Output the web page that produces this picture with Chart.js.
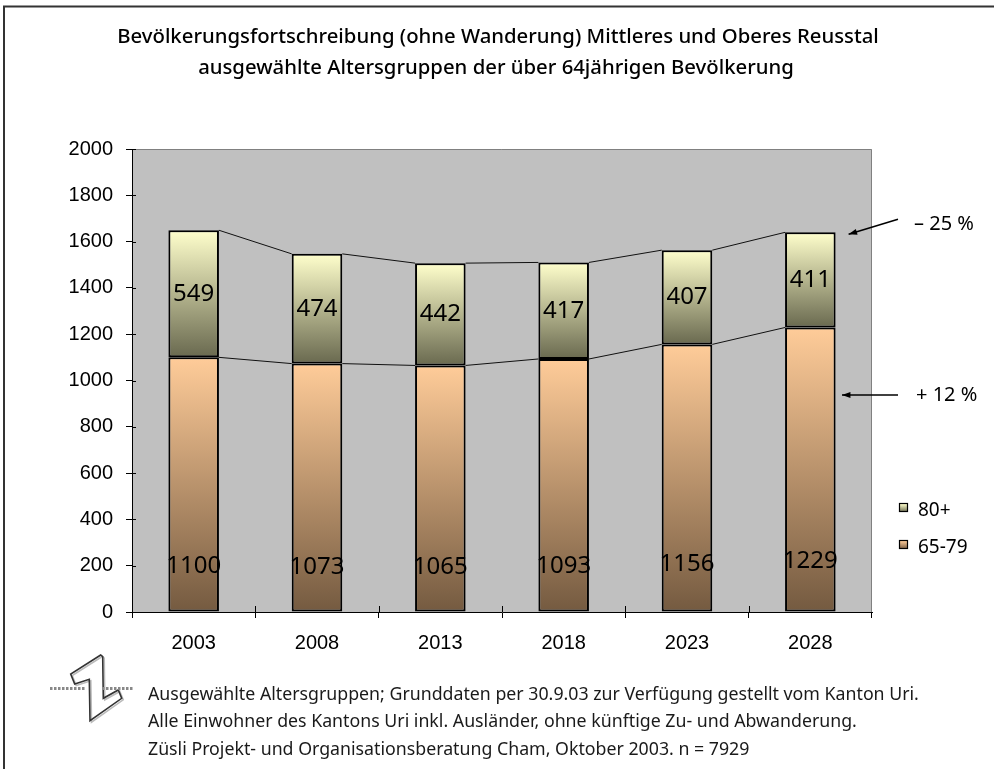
<!DOCTYPE html>
<html>
<head>
<meta charset="utf-8">
<title>Bevölkerungsfortschreibung Reusstal</title>
<script src="https://cdn.jsdelivr.net/npm/chart.js@4.4.1/dist/chart.umd.min.js"></script>
<style>
    html, body { margin: 0; padding: 0; background: #fff; }
    #wrap { position: relative; width: 994px; height: 769px; }
</style>
</head>
<body>
<div id="wrap"><canvas id="bar-chart" width="994" height="769"></canvas></div>
<script>
(function () {
    "use strict";

    // Data
    var years = ["2003", "2008", "2013", "2018", "2023", "2028"];
    var age6579 = [1100, 1073, 1065, 1093, 1156, 1229];
    var age80 = [549, 474, 442, 417, 407, 411];
    var seriesNames = ["65-79", "80+"];
    var changeNotes = ["\u2013 25 %", "+ 12 %"];
    var titleLines = [
        "Bevölkerungsfortschreibung (ohne Wanderung) Mittleres und Oberes Reusstal",
        "ausgewählte Altersgruppen der über 64jährigen Bevölkerung"
    ];
    var noteLines = [
        "Ausgewählte Altersgruppen; Grunddaten per 30.9.03 zur Verfügung gestellt vom Kanton Uri.",
        "Alle Einwohner des Kantons Uri inkl. Ausländer, ohne künftige Zu- und Abwanderung.",
        "Züsli Projekt- und Organisationsberatung Cham, Oktober 2003. n = 7929"
    ];

    // Colours (top -> bottom of each segment)
    var young = ["#ffcc99", "#745a40"];
    var old = ["#ffffcc", "#69694f"];
    var FUT = "'Noto Sans', 'DejaVu Sans', sans-serif";
    var ARIAL = "'Liberation Sans', Arial, sans-serif";

    function barGradient(context) {
        var chart = context.chart;
        var stops = context.datasetIndex === 0 ? young : old;
        if (!chart.chartArea || context.dataIndex === undefined) return stops[0];
        var i = context.dataIndex;
        var lo = context.datasetIndex === 0 ? 0 : age6579[i];
        var hi = context.datasetIndex === 0 ? age6579[i] : age6579[i] + age80[i];
        var y = chart.scales.y;
        var g = chart.ctx.createLinearGradient(0, y.getPixelForValue(hi), 0, y.getPixelForValue(lo));
        g.addColorStop(0, stops[0]);
        g.addColorStop(1, stops[1]);
        return g;
    }

    // font size so that one line hits a target width (original font is narrower)
    function fitSize(ctx, text, size, weight, family, target) {
        ctx.font = weight + " " + size + "px " + family;
        return size * target / ctx.measureText(text).width;
    }

    function arrow(ctx, x1, y1, x2, y2) {
        var a = Math.atan2(y2 - y1, x2 - x1);
        ctx.beginPath();
        ctx.moveTo(x1, y1);
        ctx.lineTo(x2, y2);
        ctx.stroke();
        ctx.beginPath();
        ctx.moveTo(x2, y2);
        ctx.lineTo(x2 - 9 * Math.cos(a - 0.35), y2 - 9 * Math.sin(a - 0.35));
        ctx.lineTo(x2 - 9 * Math.cos(a + 0.35), y2 - 9 * Math.sin(a + 0.35));
        ctx.closePath();
        ctx.fill();
    }

    // Background, frame and grey plot area
    var backdrop = {
        id: "backdrop",
        beforeDraw: function (chart) {
            var ctx = chart.ctx, a = chart.chartArea;
            ctx.save();
            ctx.fillStyle = "#fff";
            ctx.fillRect(0, 0, chart.width, chart.height);
            ctx.strokeStyle = "#333";
            ctx.lineWidth = 2;
            ctx.beginPath();
            ctx.moveTo(4, 800);
            ctx.lineTo(4, 6.5);
            ctx.lineTo(994, 6.5);
            ctx.stroke();
            ctx.fillStyle = "#c0c0c0";
            ctx.fillRect(a.left, a.top, a.right - a.left, a.bottom - a.top);
            ctx.strokeStyle = "#808080";
            ctx.lineWidth = 1;
            ctx.beginPath();
            ctx.moveTo(a.left, a.top + 0.5);
            ctx.lineTo(a.right - 0.5, a.top + 0.5);
            ctx.lineTo(a.right - 0.5, a.bottom);
            ctx.stroke();
            ctx.restore();
        }
    };

    // Series lines, value labels, legend, notes
    var decorations = {
        id: "decorations",
        afterDatasetsDraw: function (chart) {
            var ctx = chart.ctx, y = chart.scales.y, a = chart.chartArea;
            var m0 = chart.getDatasetMeta(0), m1 = chart.getDatasetMeta(1);
            ctx.save();

            // series lines between bar tops
            ctx.strokeStyle = "#111";
            ctx.lineWidth = 1;
            [m0, m1].forEach(function (meta) {
                for (var i = 0; i < meta.data.length - 1; i++) {
                    var b = meta.data[i], n = meta.data[i + 1];
                    ctx.beginPath();
                    ctx.moveTo(b.x + b.width / 2, b.y);
                    ctx.lineTo(n.x - n.width / 2, n.y);
                    ctx.stroke();
                }
            });

            // small inner ticks
            ctx.strokeStyle = "#000";
            y.ticks.forEach(function (t) {
                var py = Math.round(y.getPixelForValue(t.value)) + 0.5;
                ctx.beginPath();
                ctx.moveTo(a.left, py);
                ctx.lineTo(a.left + 4, py);
                ctx.stroke();
            });
            for (var k = 1; k < years.length; k++) {
                var px = Math.round((m0.data[k - 1].x + m0.data[k].x) / 2) + 0.5;
                ctx.beginPath();
                ctx.moveTo(px, a.bottom);
                ctx.lineTo(px, a.bottom - 6);
                ctx.stroke();
            }

            // value labels
            ctx.fillStyle = "#000";
            ctx.font = "24px " + FUT;
            ctx.textAlign = "center";
            ctx.textBaseline = "middle";
            m1.data.forEach(function (bar, i) {
                ctx.fillText(String(age80[i]), bar.x, (bar.y + bar.base) / 2);
            });
            m0.data.forEach(function (bar, i) {
                ctx.fillText(String(age6579[i]), bar.x, y.getPixelForValue(age6579[i] * 0.18));
            });
            ctx.restore();
        },
        afterDraw: function (chart) {
            var ctx = chart.ctx, y = chart.scales.y;
            var m1 = chart.getDatasetMeta(1);
            var last = m1.data[m1.data.length - 1];
            ctx.save();
            ctx.fillStyle = "#000";
            ctx.textBaseline = "middle";

            // title, one size for both lines
            var ts = fitSize(ctx, titleLines[0], 19, "500", FUT, 762);
            ctx.font = "500 " + ts.toFixed(2) + "px " + FUT;
            ctx.textAlign = "center";
            ctx.fillText(titleLines[0], 498, 37);
            ctx.fillText(titleLines[1], 496, 68);

            // change arrows
            ctx.strokeStyle = "#000";
            ctx.lineWidth = 1.5;
            var ty = y.getPixelForValue(age6579[5] + age80[5]) + 2;
            arrow(ctx, 898, ty - 15, last.x + last.width / 2 + 13, ty);
            arrow(ctx, 898, 395, 842, 395);
            ctx.font = "20px " + FUT;
            ctx.textAlign = "left";
            ctx.fillText(changeNotes[0], 914, 224);
            ctx.fillText(changeNotes[1], 916, 395);

            // legend (80+ above 65-79)
            var rows = [[seriesNames[1], old, 508], [seriesNames[0], young, 545]];
            rows.forEach(function (r) {
                var g = ctx.createLinearGradient(0, r[2] - 4, 0, r[2] + 4);
                g.addColorStop(0, r[1][0]);
                g.addColorStop(1, r[1][1]);
                ctx.fillStyle = g;
                ctx.fillRect(899.5, r[2] - 4.5, 8, 8);
                ctx.strokeStyle = "#000";
                ctx.lineWidth = 1.2;
                ctx.strokeRect(899.5, r[2] - 4.5, 8, 8);
                ctx.fillStyle = "#000";
                ctx.font = "19px " + FUT;
                ctx.fillText(r[0], 918, r[2] + 3);
            });

            // footnotes, one size for all lines
            ctx.fillStyle = "#1a1a1a";
            var ns = fitSize(ctx, noteLines[1], 17, "normal", FUT, 709);
            ctx.font = ns.toFixed(2) + "px " + FUT;
            ctx.fillText(noteLines[0], 148, 695);
            ctx.fillText(noteLines[1], 148, 722);
            ctx.fillText(noteLines[2], 148, 750);

            // logo
            var pts = [[100.7, 655], [70.7, 674], [74.7, 684], [89.3, 679.3], [90, 720.7],
                       [121.7, 698.3], [118.3, 690], [103.3, 698.3], [102.7, 656.7]];
            [[1.5, "#bbb"], [0, "#333"]].forEach(function (s) {
                ctx.strokeStyle = s[1];
                ctx.lineWidth = 1.6;
                ctx.beginPath();
                pts.forEach(function (p, i) {
                    if (i === 0) ctx.moveTo(p[0] + s[0], p[1] + s[0]);
                    else ctx.lineTo(p[0] + s[0], p[1] + s[0]);
                });
                ctx.closePath();
                ctx.stroke();
            });
            ctx.fillStyle = "#888";
            for (var dx = 50; dx < 132; dx += 4) {
                if (dx > 84 && dx < 100) continue;
                ctx.fillRect(dx, 687, 2.5, 3);
            }
            ctx.restore();
        }
    };

    // Stacked Bar Chart
    var ctx1 = document.getElementById("bar-chart").getContext("2d");
    var myChart1 = new Chart(ctx1, {
        type: "bar",
        data: {
            labels: years,
            datasets: [
                {
                    label: seriesNames[0],
                    data: age6579,
                    backgroundColor: barGradient,
                    borderColor: "#000",
                    borderWidth: 2,
                    borderSkipped: false,
                    categoryPercentage: 1,
                    barPercentage: 0.41
                },
                {
                    label: seriesNames[1],
                    data: age80,
                    backgroundColor: barGradient,
                    borderColor: "#000",
                    borderWidth: 2,
                    borderSkipped: false,
                    categoryPercentage: 1,
                    barPercentage: 0.41
                }
            ]
        },
        options: {
            responsive: false,
            animation: false,
            layout: { padding: { top: 149, right: 122, left: 0, bottom: 0 } },
            plugins: {
                legend: { display: false },
                title: { display: false },
                tooltip: { enabled: false }
            },
            scales: {
                x: {
                    stacked: true,
                    border: { color: "#000", width: 1 },
                    grid: { drawOnChartArea: false, color: "#000", tickLength: 6, offset: true },
                    ticks: { color: "#000", font: { family: ARIAL, size: 20 }, padding: 13 },
                    afterFit: function (s) {
                        s.height = 157;
                        s.paddingLeft = 0;
                        s.paddingRight = 0;
                    }
                },
                y: {
                    stacked: true,
                    min: 0,
                    max: 2000,
                    border: { color: "#000", width: 1 },
                    grid: { drawOnChartArea: false, color: "#000", tickLength: 6 },
                    ticks: {
                        stepSize: 200,
                        color: "#000",
                        font: { family: ARIAL, size: 20 },
                        padding: 13,
                        callback: function (value) {
                            return String(value);
                        }
                    },
                    afterFit: function (s) {
                        s.width = 132;
                        s.paddingTop = 0;
                        s.paddingBottom = 0;
                    }
                }
            }
        },
        plugins: [backdrop, decorations]
    });
})();
</script>
</body>
</html>
